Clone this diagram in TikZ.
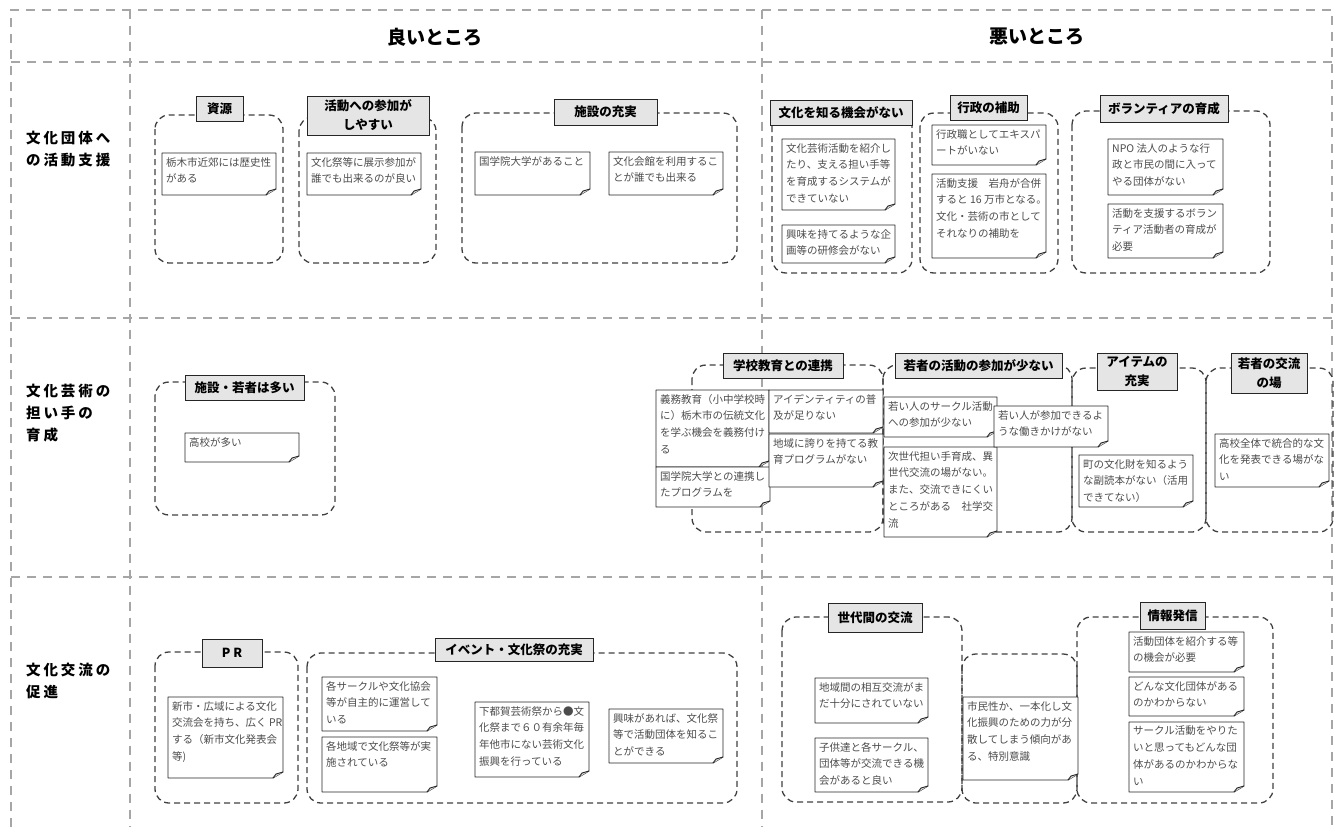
\documentclass[tikz,border=0pt]{standalone}
\usepackage{fontspec}
\setmainfont{Noto Sans CJK JP}
\newfontfamily\lblfont[LetterSpace=20]{Noto Sans CJK JP}
\newcommand{\notebox}[6]{%
  \draw[notestyle] (#2,#3) -- (#4,#3) -- (#4,#5-6) -- (#4-10,#5) -- (#2,#5) -- cycle;
  \draw[notestyle,fill=black!15] (#4,#5-6) -- (#4-7,#5-4) -- (#4-10,#5);
  \node[notetext] (#1) at (#2+2,#3+2) {#6};
}
\newcommand{\titlebox}[6]{%
  \pgfmathsetmacro{\mytw}{#4-#2}\pgfmathsetmacro{\myth}{#5-#3}%
  \node[titlestyle, minimum width=\mytw pt, minimum height=\myth pt] (#1) at ({(#2+#4)/2},{(#3+#5)/2}) {#6};
}
\newcommand{\groupbox}[4]{\draw[grpstyle] (#1,#2) rectangle (#3,#4);}
\begin{document}
\begin{tikzpicture}[x=1pt,y=-1pt,
  gridline/.style={draw=black!35, line width=2pt, dash pattern=on 9pt off 7pt},
  grpstyle/.style={draw=black!75, line width=1.3pt, dash pattern=on 6pt off 4pt, rounded corners=14pt},
  notestyle/.style={draw=black!85, line width=0.9pt, fill=white, line join=round},
  notetext/.style={anchor=north west, align=left, inner sep=2pt, text=black!70, font=\fontsize{10.5}{16.8}\selectfont},
  titlestyle/.style={draw=black!85, fill=black!10, line width=1pt, inner sep=0pt, align=center, font=\fontsize{12.5}{19}\selectfont\bfseries},
  hdr/.style={font=\fontsize{19}{22}\selectfont\bfseries},
  rowlbl/.style={anchor=north west, align=left, inner sep=0pt, font=\lblfont\fontsize{14.5}{22}\selectfont\bfseries}
]
\useasboundingbox (0,0) rectangle (1335,827);
% grid
\draw[gridline] (11,827) -- (11,10) -- (1332,10) -- (1332,827);
\draw[gridline] (130,10) -- (130,827);
\draw[gridline] (762,10) -- (762,827);
\draw[gridline] (11,62) -- (1332,62);
\draw[gridline] (11,318) -- (1332,318);
\draw[gridline] (11,577) -- (1332,577);
% headers
\node[hdr] (good) at (435,37) {良いところ};
\node[hdr] (bad) at (1037,37) {悪いところ};
\node[rowlbl] (r1) at (26,131) {文化団体へ\\の活動支援};
\node[rowlbl] (r2) at (26,384) {文化芸術の\\担い手の\\育成};
\node[rowlbl] (r3) at (26,663) {文化交流の\\促進};
% groups
\groupbox{155}{115}{283}{263}
\groupbox{299}{117}{436}{263}
\groupbox{462}{113}{737}{263}
\groupbox{772}{112}{912}{273}
\groupbox{920}{113}{1058}{273}
\groupbox{1072}{111}{1270}{273}
\groupbox{155}{382}{335}{515}
\groupbox{692}{365}{883}{532}
\groupbox{883}{365}{1072}{532}
\groupbox{1072}{368}{1206}{532}
\groupbox{1206}{368}{1333}{532}
\groupbox{155}{652}{298}{803}
\groupbox{307}{653}{737}{803}
\groupbox{782}{617}{962}{802}
\groupbox{962}{654}{1077}{803}
\groupbox{1077}{617}{1273}{803}
% notes row 1
\notebox{n1}{162}{153}{276}{195}{栃木市近郊には歴史性\\がある}
\notebox{n2}{307}{153}{421}{195}{文化祭等に展示参加が\\誰でも出来るのが良い}
\notebox{n3}{475}{152}{590}{195}{国学院大学があること}
\notebox{n4}{609}{152}{723}{195}{文化会館を利用するこ\\とが誰でも出来る}
\notebox{n5}{782}{139}{895}{210}{文化芸術活動を紹介し\\たり、支える担い手等\\を育成するシステムが\\できていない}
\notebox{n6}{782}{225}{895}{263}{興味を持てるような企\\画等の研修会がない}
\notebox{n7}{932}{125}{1046}{165}{行政職としてエキスパ\\ートがいない}
\notebox{n8}{932}{174}{1046}{258}{活動支援　岩舟が合併\\すると 16 万市となる。\\文化・芸術の市として\\それなりの補助を}
\notebox{n9}{1108}{139}{1223}{195}{NPO 法人のような行\\政と市民の間に入って\\やる団体がない}
\notebox{n10}{1108}{204}{1223}{258}{活動を支援するボラン\\ティア活動者の育成が\\必要}
% notes row 2
\notebox{n11}{185}{433}{299}{462}{高校が多い}
\notebox{n12}{656}{390}{769}{467}{義務教育（小中学校時\\に）栃木市の伝統文化\\を学ぶ機会を義務付け\\る}
\notebox{n13}{656}{467}{770}{507}{国学院大学との連携し\\たプログラムを}
\notebox{n14}{769}{390}{883}{433}{アイデンティティの普\\及が足りない}
\notebox{n15}{769}{434}{883}{487}{地域に誇りを持てる教\\育プログラムがない}
\notebox{n16}{884}{397}{997}{437}{若い人のサークル活動\\への参加が少ない}
\notebox{n17}{884}{447}{997}{537}{次世代担い手育成、異\\世代交流の場がない。\\また、交流できにくい\\ところがある　社学交\\流}
\notebox{n18}{994}{406}{1108}{447}{若い人が参加できるよ\\うな働きかけがない}
\notebox{n19}{1079}{455}{1193}{507}{町の文化財を知るよう\\な副読本がない（活用\\できてない）}
\notebox{n20}{1215}{434}{1329}{487}{高校全体で統合的な文\\化を発表できる場がな\\い}
% notes row 3
\notebox{n21}{168}{697}{283}{778}{新市・広域による文化\\交流会を持ち、広く PR\\する（新市文化発表会\\等)}
\notebox{n22}{322}{677}{437}{731}{各サークルや文化協会\\等が自主的に運営して\\いる}
\notebox{n23}{322}{737}{437}{792}{各地域で文化祭等が実\\施されている}
\notebox{n24}{475}{702}{589}{777}{下都賀芸術祭から●文\\化祭まで６０有余年毎\\年他市にない芸術文化\\振興を行っている}
\notebox{n25}{609}{709}{723}{763}{興味があれば、文化祭\\等で活動団体を知るこ\\とができる}
\notebox{n26}{815}{678}{928}{723}{地域間の相互交流がま\\だ十分にされていない}
\notebox{n27}{815}{738}{928}{792}{子供達と各サークル、\\団体等が交流できる機\\会があると良い}
\notebox{n28}{963}{697}{1078}{780}{市民性か、一本化し文\\化振興のための力が分\\散してしまう傾向があ\\る、特別意識}
\notebox{n29}{1129}{632}{1244}{672}{活動団体を紹介する等\\の機会が必要}
\notebox{n30}{1129}{677}{1244}{716}{どんな文化団体がある\\のかわからない}
\notebox{n31}{1129}{722}{1244}{792}{サークル活動をやりた\\いと思ってもどんな団\\体があるのかわからな\\い}
% titles
\titlebox{t1}{196}{96}{243}{121}{資源}
\titlebox{t2}{307}{96}{429}{135}{活動への参加が\\しやすい}
\titlebox{t3}{554}{99}{657}{125}{施設の充実}
\titlebox{t4}{770}{100}{912}{125}{文化を知る機会がない}
\titlebox{t5}{950}{95}{1027}{120}{行政の補助}
\titlebox{t6}{1100}{95}{1228}{122}{ボランティアの育成}
\titlebox{t7}{185}{375}{304}{400}{施設・若者は多い}
\titlebox{t8}{723}{353}{843}{378}{学校教育との連携}
\titlebox{t9}{895}{353}{1062}{378}{若者の活動の参加が少ない}
\titlebox{t10}{1097}{353}{1177}{390}{アイテムの\\充実}
\titlebox{t11}{1231}{353}{1307}{393}{若者の交流\\の場}
\titlebox{t12}{202}{639}{262}{667}{P R}
\titlebox{t13}{435}{638}{593}{661}{イベント・文化祭の充実}
\titlebox{t14}{828}{603}{922}{632}{世代間の交流}
\titlebox{t15}{1140}{602}{1205}{629}{情報発信}
\end{tikzpicture}
\end{document}
